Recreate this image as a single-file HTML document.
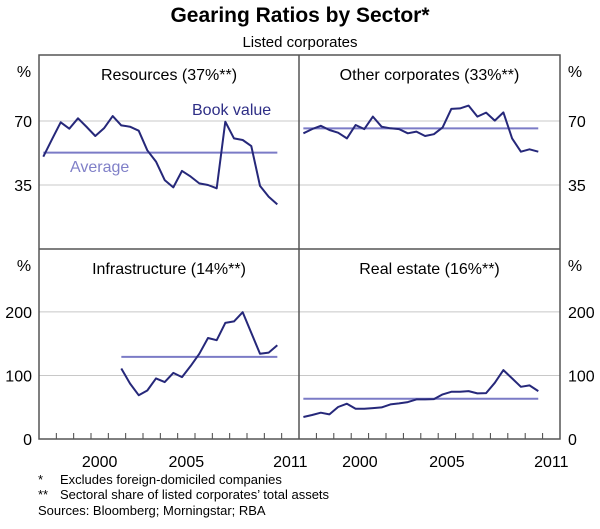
<!DOCTYPE html>
<html><head><meta charset="utf-8"><style>
body{margin:0;background:#fff;width:600px;height:524px;overflow:hidden;font-family:"Liberation Sans",Arial,sans-serif}
svg text{font-family:"Liberation Sans",Arial,sans-serif}
</style></head><body>
<svg id="c" width="600" height="524" viewBox="0 0 600 524" xmlns="http://www.w3.org/2000/svg">
<text x="300" y="22" text-anchor="middle" font-size="21" font-weight="bold" fill="#000">Gearing Ratios by Sector*</text>
<text x="300" y="47" text-anchor="middle" font-size="15" fill="#000">Listed corporates</text>
<g id="plots"></g>
<text x="38" y="484" font-size="13">*</text>
<text x="60" y="484" font-size="13">Excludes foreign-domiciled companies</text>
<text x="38" y="499" font-size="13">**</text>
<text x="60" y="499" font-size="13">Sectoral share of listed corporates’ total assets</text>
<text x="38" y="515" font-size="13">Sources: Bloomberg; Morningstar; RBA</text>
</svg>
<script>
const startYear = 1997.25;
const resources = [50.5,60,69.3,65.8,71.5,66.7,61.8,66,72.7,67.6,66.9,64.7,54,47.8,37.7,33.7,42.7,39.6,35.9,35,33.2,69.6,60.5,59.6,56.3,34.5,28.6,24.4];
const resourcesAvg = 52.7;
const otherCorp = [63.3,65.6,67.4,65.1,63.6,60.5,67.8,65.6,72.4,66.9,66,65.6,63.3,64.2,61.8,62.8,66.5,76.6,76.9,78.4,72.4,74.6,70.2,74.7,60.5,53.2,54.5,53.2];
const otherAvg = 66;
const infra = [null,null,null,null,null,null,null,null,null,111,87.4,69,76.4,95.3,89.5,104,97.4,115,134,159,155.5,182.7,185,199.5,167,134,136,147.6];
const infraAvg = 129.3;
const infraAvgStart = 9;
const realEstate = [34.6,37.7,41.4,38.7,50.3,55.5,47.6,47.6,48.7,49.7,54.5,56,58.1,62.3,62.3,62.8,70.2,74.3,74.3,75.4,71.7,72.3,88.5,108.4,95.3,82.2,84.3,75.4];
const realEstateAvg = 63.3;
const topTicks = [35,70];
const bottomTicks = [0,100,200];
const yearLabels = [2000,2005,2011];

const NS="http://www.w3.org/2000/svg";
const g=document.getElementById('plots');
function el(t,a,p){const e=document.createElementNS(NS,t);for(const k in a)e.setAttribute(k,a[k]);(p||g).appendChild(e);return e;}
const X0=1997,X1=2012;
const panels=[
 {name:'resources',title:'Resources (37%**)',x0:39,x1:299,y0:55,y1:249,ymax:106.1,data:resources,avg:resourcesAvg,avgStart:0,ticks:topTicks,side:'left'},
 {name:'other-corporates',title:'Other corporates (33%**)',x0:299,x1:560,y0:55,y1:249,ymax:106.1,data:otherCorp,avg:otherAvg,avgStart:0,ticks:topTicks,side:'right'},
 {name:'infrastructure',title:'Infrastructure (14%**)',x0:39,x1:299,y0:249,y1:439,ymax:299,data:infra,avg:infraAvg,avgStart:infraAvgStart,ticks:bottomTicks,side:'left'},
 {name:'real-estate',title:'Real estate (16%**)',x0:299,x1:560,y0:249,y1:439,ymax:299,data:realEstate,avg:realEstateAvg,avgStart:0,ticks:bottomTicks,side:'right'}
];
panels.forEach((p,pi)=>{
 const sx=t=>p.x0+(t-X0)/(X1-X0)*(p.x1-p.x0);
 const sy=v=>p.y1-v/p.ymax*(p.y1-p.y0);
 p.ticks.forEach(v=>{
  if(v===0)return;
  const l=el('line',{x1:p.x0,x2:p.x1,y1:sy(v),y2:sy(v),stroke:'#c8c8c8','stroke-width':1});
  
  
 });
 const tt=el('text',{x:(p.x0+p.x1)/2,y:p.y0+25,'text-anchor':'middle','font-size':16,fill:'#000'});
 tt.textContent=p.title;
 
 
 // average line
 const last=p.data.length-1;
 const av=el('line',{x1:sx(startYear+0.5*p.avgStart),x2:sx(startYear+0.5*last),y1:sy(p.avg),y2:sy(p.avg),stroke:'#7b7bc6','stroke-width':2});
 
 
 let d='';
 p.data.forEach((v,i)=>{if(v==null)return;d+=(d?'L':'M')+sx(startYear+0.5*i).toFixed(1)+','+sy(v).toFixed(1);});
 const ln=el('path',{d:d,fill:'none',stroke:'#26287a','stroke-width':2,'stroke-linejoin':'round'});
 
 
 // axis labels
 const lx=p.side==='left'?32:568;
 const anchor=p.side==='left'?'end':'start';
 const pc=el('text',{x:p.side==='left'?24:575,y:p.y0+22,'text-anchor':'middle','font-size':16});
 pc.textContent='%';
 
 
 p.ticks.forEach(v=>{
  const t=el('text',{x:lx,y:sy(v)+6,'text-anchor':anchor,'font-size':16});
  t.textContent=String(v);
  
  
 });
 if(p.y1===439){
  for(let y=X0+1;y<X1;y++){
   const tk=el('line',{x1:sx(y),x2:sx(y),y1:439,y2:433,stroke:'#444','stroke-width':1});
   
   
  }
  yearLabels.forEach(yr=>{
   const t=el('text',{x:sx(yr+0.5),y:467,'text-anchor':'middle','font-size':16});
   t.textContent=String(yr);
   
   
  });
 }
});
const fr=el('rect',{x:39,y:55,width:521,height:384,fill:'none',stroke:'#555','stroke-width':1.5});


const vl=el('line',{x1:299,x2:299,y1:55,y2:439,stroke:'#555','stroke-width':1.5});


const hl=el('line',{x1:39,x2:560,y1:249,y2:249,stroke:'#555','stroke-width':1.5});


const bv=el('text',{x:192,y:115,'font-size':16,fill:'#2e2e86'});
bv.textContent='Book value';


const avt=el('text',{x:70,y:172,'font-size':16,fill:'#8080c8'});
avt.textContent='Average';


</script>
</body></html>
